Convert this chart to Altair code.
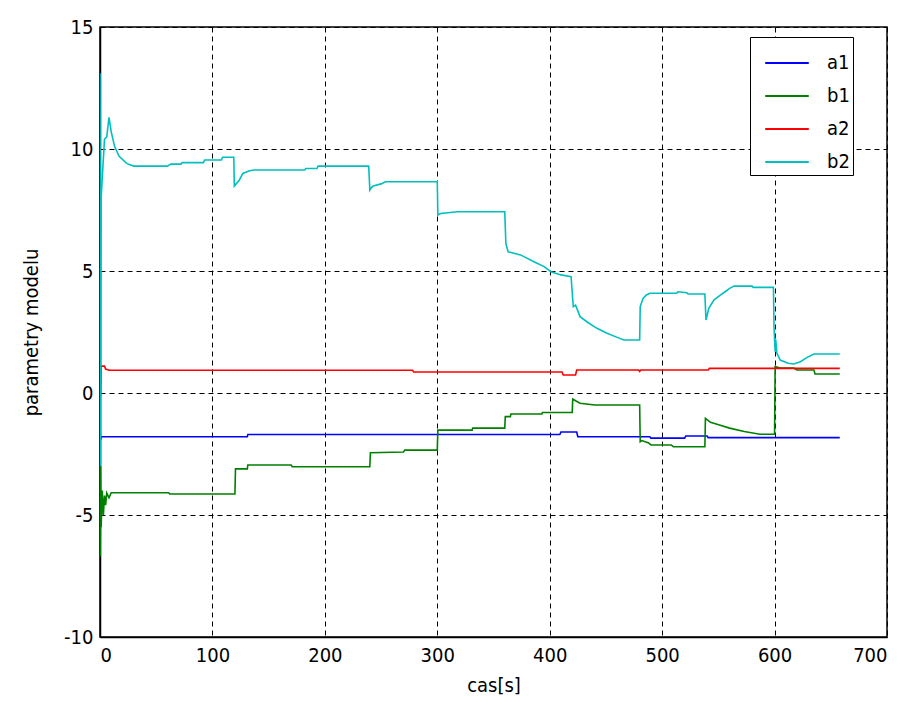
import altair as alt
import pandas as pd

# ---- data (time [s], value) ----
a1_t = [0, 0.5, 1.5, 131, 131.5, 409, 410, 424, 425, 489, 490, 520, 521, 540, 541, 658]
a1_v = [-1.4, -1.9, -1.79, -1.79, -1.7, -1.7, -1.6, -1.6, -1.79, -1.79, -1.85, -1.85, -1.76, -1.76, -1.83, -1.83]

b1_t = [0, 0.3, 0.6, 1, 2, 3, 4, 5, 6, 8, 10, 61, 62, 120, 120.5, 131, 131.5, 170, 171, 240,
        240.5, 270, 271, 300, 300.5, 331, 331.5, 360, 360.5, 365, 365.5, 393, 393.5, 420,
        420.5, 423, 427, 440, 480, 480.5, 482, 488, 490, 508, 510, 538, 538.5, 543, 551, 560,
        573, 587, 600, 600.5, 605, 617, 620, 635, 636, 658]
b1_v = [-3.0, -6.7, -3.0, -5.5, -4.0, -5.0, -4.2, -4.6, -4.1, -4.3, -4.09, -4.09, -4.14, -4.14, -3.11, -3.11, -2.95, -2.95, -3.02, -3.02,
        -2.45, -2.42, -2.34, -2.34, -1.52, -1.52, -1.44, -1.44, -0.97, -0.97, -0.86, -0.86, -0.8, -0.8,
        -0.25, -0.32, -0.42, -0.49, -0.49, -2.0, -1.95, -2.05, -2.13, -2.13, -2.2, -2.2, -1.04, -1.2, -1.31, -1.44,
        -1.58, -1.69, -1.69, 1.08, 1.02, 1.02, 0.94, 0.94, 0.78, 0.78]

a2_t = [0, 0.5, 1, 4, 5, 8, 278, 279, 411, 412, 423, 424, 479, 480, 481, 541, 542, 658]
a2_v = [0.7, -0.16, 1.1, 1.1, 0.98, 0.93, 0.93, 0.86, 0.86, 0.74, 0.74, 0.94, 0.94, 0.88, 0.94, 0.94, 1.01, 1.01]

b2_t = [0, 0.5, 1, 4, 6, 8, 9, 10, 13, 17, 24, 30, 60, 63, 72, 73, 92, 93, 108, 109, 119,
        119.5, 124, 127, 133, 137, 182, 183, 193, 194, 239, 240, 241, 243, 250, 254, 300,
        300.5, 303, 318, 360, 361, 363, 374, 386, 395, 401, 410, 419, 420.5, 421, 423, 427,
        433, 442, 451, 460, 466, 480, 480.5, 483, 486, 489, 513, 514, 522, 523, 538, 539,
        541.5, 546, 552, 556, 560, 564, 580, 581, 599, 599.5, 600.5, 601, 602, 605, 612, 617,
        623, 629, 635, 658]
b2_v = [13.1, -3.0, 8.0, 10.4, 10.5, 11.3, 11.0, 10.7, 10.1, 9.7, 9.4, 9.3, 9.3, 9.38, 9.38, 9.44, 9.44, 9.55, 9.55, 9.66, 9.66,
        8.48, 8.73, 9.0, 9.11, 9.14, 9.14, 9.2, 9.2, 9.3, 9.3, 8.32, 8.4, 8.48, 8.57, 8.66, 8.66,
        7.3, 7.36, 7.43, 7.43, 6.13, 5.79, 5.66, 5.38, 5.18, 4.97, 4.84, 4.77, 3.81, 3.54, 3.6, 3.13,
        2.92, 2.65, 2.45, 2.28, 2.17, 2.17, 3.54, 3.88, 4.02, 4.09, 4.09, 4.15, 4.11, 4.06, 4.06, 2.99,
        3.47, 3.81, 4.02, 4.15, 4.29, 4.38, 4.38, 4.33, 4.33, 2.72, 1.7, 2.2, 1.64, 1.35, 1.22, 1.19,
        1.28, 1.46, 1.6, 1.6]

series_names = ["a1", "b1", "a2", "b2"]
series_colors = ["#0000FF", "#008000", "#FF0000", "#00BFBF"]
x_ticks = [0, 100, 200, 300, 400, 500, 600, 700]
y_ticks = [-10, -5, 0, 5, 10, 15]

rows = []
for name, ts, vs in [("a1", a1_t, a1_v), ("b1", b1_t, b1_v), ("a2", a2_t, a2_v), ("b2", b2_t, b2_v)]:
    for i, (t, v) in enumerate(zip(ts, vs)):
        rows.append({"t": t, "v": v, "s": name, "i": i})
df = pd.DataFrame(rows)

FONT = "Liberation Sans Narrow, DejaVu Sans Condensed, Liberation Sans, Arial, sans-serif"

chart = alt.Chart(df).mark_line(strokeWidth=1.6, clip=True).encode(
    x=alt.X("t:Q", scale=alt.Scale(domain=[0, 700], nice=False, zero=False),
            axis=alt.Axis(values=x_ticks, title="cas[s]", labelExpr="'' + datum.value")),
    y=alt.Y("v:Q", scale=alt.Scale(domain=[-10, 15], nice=False, zero=False),
            axis=alt.Axis(values=y_ticks, title="parametry modelu", labelExpr="'' + datum.value")),
    color=alt.Color("s:N", scale=alt.Scale(domain=series_names, range=series_colors),
                    sort=series_names,
                    legend=alt.Legend(title=None, orient="none", legendX=650, legendY=10,
                                      symbolType="stroke", symbolSize=1900, symbolStrokeWidth=2,
                                      symbolOffset=11,
                                      labelFontSize=20, labelFont=FONT, labelColor="black",
                                      labelOffset=17, rowPadding=0,
                                      labelExpr="datum.label + '\u00a0\u00a0\u00a0'",
                                      padding=3, fillColor="white", strokeColor="black",
                                      cornerRadius=0, offset=0)),
    order="i:Q",
).properties(
    width=787, height=610,
    background="white",
    padding={"left": 92, "top": 19, "right": 10, "bottom": 60},
    autosize=alt.AutoSizeParams(type="none"),
).configure_view(
    stroke="black", strokeWidth=1.5
).configure_axis(
    grid=True, gridColor="black", gridDash=[5, 4], gridWidth=1, gridOpacity=1,
    domain=True, domainColor="black", domainWidth=1.5,
    ticks=False,
    labelFont=FONT, labelFontSize=20, labelColor="black",
    titleFont=FONT, titleFontSize=20, titleColor="black", titleFontWeight="normal",
).configure_axisX(
    labelPadding=8, titlePadding=10
).configure_axisY(
    labelPadding=7, titlePadding=22
)

chart.save("out.html", embed_options={"renderer": "svg", "actions": False})
